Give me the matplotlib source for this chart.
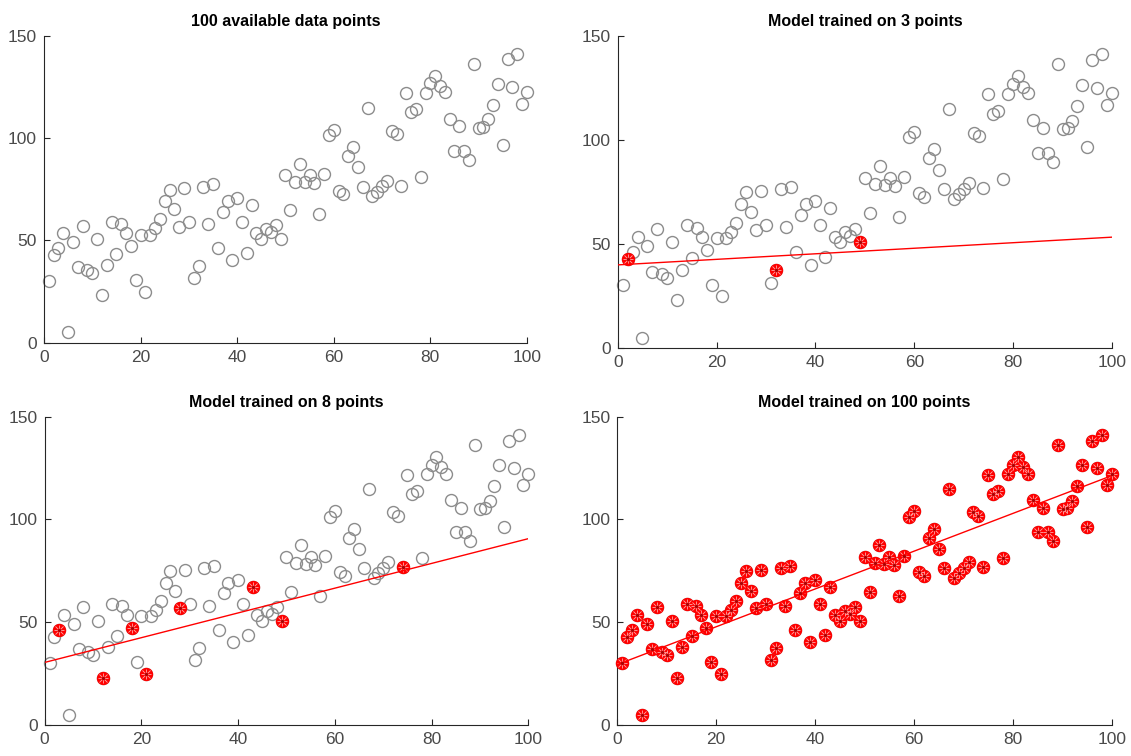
import numpy as np
import matplotlib
matplotlib.use("Agg")
import matplotlib.pyplot as plt

x_vals = np.arange(1, 101)
y_vals = [
    30.3, 42.7, 46.4, 53.4, 5.0, 49.0, 36.8, 57.2, 35.5, 33.9,
    50.8, 23.1, 37.8, 59.0, 43.3, 57.8, 53.4, 47.0, 30.6, 52.8,
    24.9, 52.8, 56.0, 60.3, 69.0, 74.8, 65.3, 56.7, 75.6, 59.0,
    31.4, 37.6, 76.2, 58.0, 77.4, 46.4, 64.0, 69.2, 40.2, 70.5,
    59.1, 44.0, 67.3, 53.6, 50.8, 55.7, 54.1, 57.3, 50.8, 81.8,
    64.7, 78.7, 87.5, 78.5, 81.8, 77.9, 63.0, 82.4, 101.3, 103.9,
    74.3, 72.5, 91.2, 95.6, 85.6, 76.2, 114.7, 71.7, 73.8, 76.5,
    79.2, 103.4, 101.8, 76.7, 121.8, 112.5, 114.0, 81.1, 122.1, 126.7,
    130.5, 125.4, 122.3, 109.4, 93.8, 105.7, 93.8, 89.4, 136.2, 105.0,
    105.5, 109.1, 116.3, 126.5, 96.4, 138.4, 125.1, 141.0, 116.6, 122.3,
]
y_vals = np.array(y_vals)

train_3 = [2, 32, 49]
train_8 = [3, 12, 18, 21, 28, 43, 49, 74]
train_100 = list(range(1, 101))

titles = ["100 available data points", "Model trained on 3 points",
          "Model trained on 8 points", "Model trained on 100 points"]
subsets = [None, train_3, train_8, train_100]

positions = [
    [0.0389, 0.5467, 0.4270, 0.4061],
    [0.5462, 0.5393, 0.4370, 0.4135],
    [0.0395, 0.0410, 0.4276, 0.4078],
    [0.5458, 0.0410, 0.4374, 0.4078],
]

plt.rcParams['font.family'] = ['Liberation Sans', 'DejaVu Sans']

fig = plt.figure(figsize=(11.31, 7.56), dpi=100)
axc = '#262626'
gray = '#8c8c8c'
red = '#ff0000'

for pos, title, sub in zip(positions, titles, subsets):
    ax = fig.add_axes(pos)
    ax.plot(x_vals, y_vals, 'o', markerfacecolor='none', markeredgecolor=gray,
            markersize=8.6, markeredgewidth=1.0, zorder=2, clip_on=False)
    if sub is not None:
        sx = np.array(sub)
        sy = y_vals[sx - 1]
        ax.plot(sx, sy, 'o', markerfacecolor=red, markeredgecolor=red,
                markersize=8.6, markeredgewidth=1.0, zorder=3, clip_on=False)
        ax.plot(sx, sy, '+', markeredgecolor='#ffa8a8',
                markersize=7.5, markeredgewidth=0.6, zorder=4, clip_on=False)
        ax.plot(sx, sy, 'x', markeredgecolor='#ffa8a8',
                markersize=5.5, markeredgewidth=0.6, zorder=4, clip_on=False)
        ax.plot(sx, sy, '.', color='#b00000', markersize=3, zorder=5, clip_on=False)
        coef = np.polyfit(sx, sy, 1)
        lx = np.array([0, 100])
        ax.plot(lx, np.polyval(coef, lx), '-', color=red, linewidth=1.0, zorder=4)
    ax.set_xlim(0, 100)
    ax.set_ylim(0, 150)
    ax.set_xticks([0, 20, 40, 60, 80, 100])
    ax.set_yticks([0, 50, 100, 150])
    for s in ['top', 'right']:
        ax.spines[s].set_visible(False)
    for s in ['left', 'bottom']:
        ax.spines[s].set_color(axc)
        ax.spines[s].set_linewidth(0.8)
    ax.tick_params(direction='in', length=4, width=0.8, color=axc,
                   labelcolor='#4a4a4a', labelsize=12.5, pad=5)
    ax.set_title(title, fontsize=11.5, fontweight='bold', color='black', pad=7)

fig.savefig("out.png", dpi=100)
